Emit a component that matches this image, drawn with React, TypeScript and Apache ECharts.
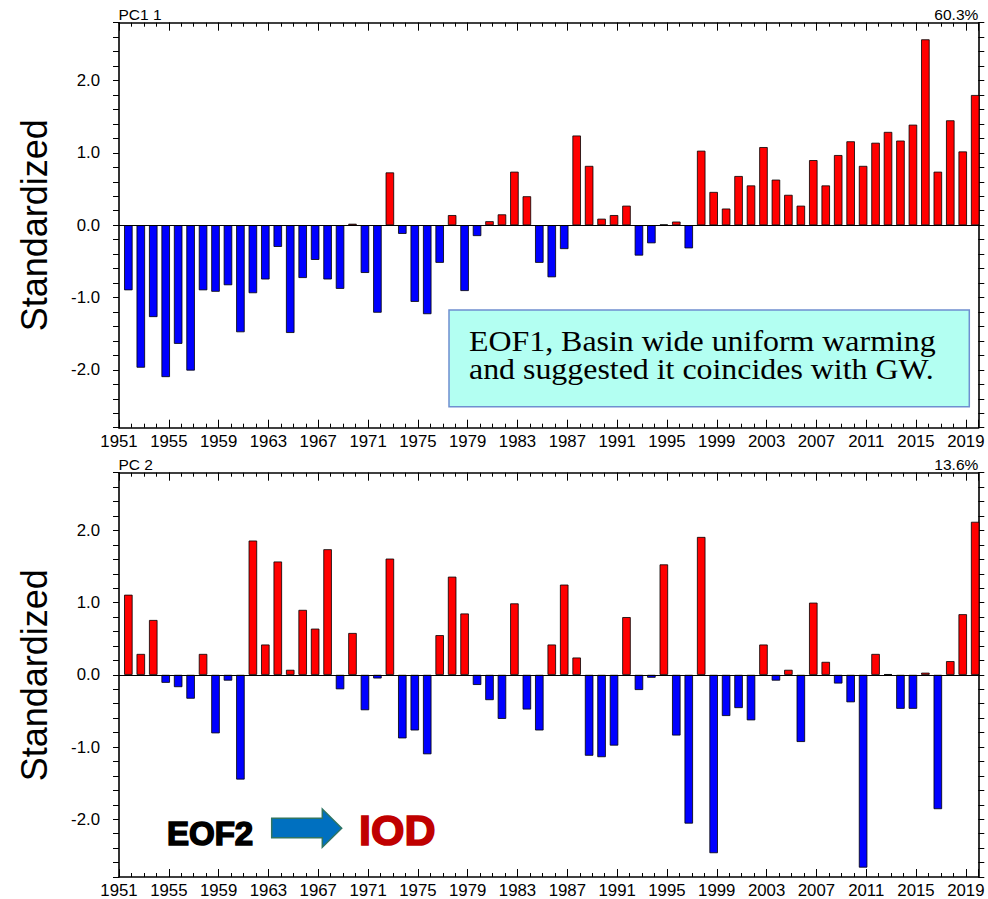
import React, { useEffect, useRef } from 'react';
import * as echarts from 'echarts';

const YEARS = [
  1951, 1952, 1953, 1954, 1955, 1956, 1957, 1958, 1959, 1960,
  1961, 1962, 1963, 1964, 1965, 1966, 1967, 1968, 1969, 1970,
  1971, 1972, 1973, 1974, 1975, 1976, 1977, 1978, 1979, 1980,
  1981, 1982, 1983, 1984, 1985, 1986, 1987, 1988, 1989, 1990,
  1991, 1992, 1993, 1994, 1995, 1996, 1997, 1998, 1999, 2000,
  2001, 2002, 2003, 2004, 2005, 2006, 2007, 2008, 2009, 2010,
  2011, 2012, 2013, 2014, 2015, 2016, 2017, 2018, 2019,
];

const PC1 = [
  -0.9, -1.97, -1.27, -2.1, -1.64, -2.01, -0.9, -0.92, -0.83, -1.48,
  -0.94, -0.75, -0.3, -1.49, -0.73, -0.48, -0.75, -0.88, 0.02, -0.66,
  -1.21, 0.73, -0.12, -1.06, -1.23, -0.52, 0.14, -0.91, -0.15, 0.055,
  0.15, 0.74, 0.4, -0.52, -0.72, -0.33, 1.24, 0.82, 0.09, 0.14,
  0.27, -0.42, -0.25, 0.01, 0.05, -0.32, 1.03, 0.46, 0.23, 0.68,
  0.55, 1.08, 0.63, 0.42, 0.27, 0.9, 0.55, 0.97, 1.16, 0.82,
  1.14, 1.29, 1.17, 1.39, 2.57, 0.74, 1.45, 1.02, 1.8,
];

const PC2 = [
  1.11, 0.29, 0.76, -0.11, -0.17, -0.33, 0.29, -0.81, -0.08, -1.45,
  1.86, 0.42, 1.57, 0.07, 0.9, 0.64, 1.74, -0.2, 0.58, -0.49,
  -0.05, 1.61, -0.88, -0.77, -1.1, 0.55, 1.36, 0.85, -0.14, -0.35,
  -0.61, 0.99, -0.48, -0.77, 0.42, 1.25, 0.24, -1.12, -1.14, -0.98,
  0.8, -0.21, -0.04, 1.53, -0.84, -2.06, 1.91, -2.47, -0.57, -0.46,
  -0.63, 0.42, -0.08, 0.07, -0.93, 1.0, 0.18, -0.12, -0.38, -2.67,
  0.29, 0.01, -0.47, -0.47, 0.03, -1.86, 0.19, 0.84, 2.12,
];

const Y_LABELS = [-2, -1, 0, 1, 2];
const TITLES_LEFT = ['PC1 1', 'PC 2'];
const TITLES_RIGHT = ['60.3%', '13.6%'];
const Y_NAME = 'Standardized';
const BOX_LINES = ['EOF1, Basin wide uniform warming', 'and suggested it coincides with GW.'];
const EOF2_TEXT = 'EOF2';
const IOD_TEXT = 'IOD';

const SANS = "'Liberation Sans', Arial, Helvetica, sans-serif";
const SERIF = "'Liberation Serif', 'Times New Roman', serif";

const FIRST_YEAR = 1951;
const X_MAX = 69;
const BAR_OFFSET = 0.75;
const GRID_LEFT = 119;
const GRID_W = 859.3;
const GRID_H = 405;
const GRID_TOPS = [22.7, 472.7];

function buildOption() {
  const axisLineStyle = { color: '#000', width: 1.6 };
  const tickStyle = { color: '#000', width: 1 };
  const xAxes: any[] = [];
  const yAxes: any[] = [];
  const series: any[] = [];
  const graphic: any[] = [];
  const datasets = [PC1, PC2];

  GRID_TOPS.forEach((top, g) => {
    const base = { type: 'value', gridIndex: g, min: 0, max: X_MAX, splitLine: { show: false } };
    ['bottom', 'top'].forEach((pos) => {
      xAxes.push({
        ...base,
        position: pos,
        interval: 1,
        axisLine: { show: true, onZero: false, lineStyle: axisLineStyle },
        axisTick: { show: true, inside: true, length: 4, lineStyle: tickStyle },
        axisLabel: { show: false },
      });
      xAxes.push({
        ...base,
        position: pos,
        interval: 4,
        axisLine: { show: false, onZero: false },
        axisTick: { show: true, inside: true, length: 8, lineStyle: tickStyle },
        axisLabel: {
          show: pos === 'bottom',
          fontSize: 16.8,
          fontFamily: SANS,
          color: '#000',
          margin: 5,
          formatter: (v: number) => {
            const r = Math.round(v);
            return Math.abs(v - r) < 1e-6 && r % 4 === 0 && r < X_MAX ? String(FIRST_YEAR + r) : '';
          },
        },
      });
    });
    ['left', 'right'].forEach((pos) => {
      yAxes.push({
        type: 'value',
        gridIndex: g,
        position: pos,
        min: -2.8,
        max: 2.8,
        interval: 0.2,
        splitLine: { show: false },
        axisLine: { show: true, onZero: false, lineStyle: axisLineStyle },
        axisTick: { show: true, inside: false, length: 6, lineStyle: tickStyle },
        axisLabel: {
          show: pos === 'left',
          fontSize: 16.8,
          fontFamily: SANS,
          color: '#000',
          margin: 19,
          formatter: (v: number) => {
            const r = Math.round(v);
            return Math.abs(v - r) < 1e-6 && Y_LABELS.indexOf(r) >= 0 ? r.toFixed(1) : '';
          },
        },
      });
    });

    const vals = datasets[g];
    series.push({
      type: 'bar',
      xAxisIndex: g * 4,
      yAxisIndex: g * 2,
      barWidth: 8.5,
      clip: true,
      data: vals.map((v, i) => [YEARS[i] - FIRST_YEAR + BAR_OFFSET, v]),
      itemStyle: {
        color: (p: any) => (p.value[1] >= 0 ? '#ff0000' : '#0000ff'),
        borderColor: '#000',
        borderWidth: 0.8,
      },
      markLine: {
        silent: true,
        symbol: 'none',
        label: { show: false },
        lineStyle: { color: '#000', width: 1, type: 'solid' },
        data: [{ yAxis: 0 }],
      },
    });

    graphic.push({
      type: 'text',
      x: GRID_LEFT - 0.5,
      y: top - 8,
      style: { text: TITLES_LEFT[g], font: `15.5px ${SANS}`, fill: '#000', textAlign: 'left', textVerticalAlign: 'middle' },
    });
    graphic.push({
      type: 'text',
      x: GRID_LEFT + GRID_W,
      y: top - 8,
      style: { text: TITLES_RIGHT[g], font: `15.5px ${SANS}`, fill: '#000', textAlign: 'right', textVerticalAlign: 'middle' },
    });
    graphic.push({
      type: 'text',
      x: 34,
      y: top + GRID_H / 2,
      rotation: Math.PI / 2,
      style: { text: Y_NAME, font: `36px ${SANS}`, fill: '#000', textAlign: 'center', textVerticalAlign: 'middle' },
    });
  });

  // EOF1 annotation box
  graphic.push({
    type: 'rect',
    z: 100,
    shape: { x: 449, y: 310, width: 520.3, height: 96.7 },
    style: { fill: '#b3fff2', stroke: '#6f8fd0', lineWidth: 1.5 },
  });
  graphic.push({
    type: 'text',
    z: 101,
    x: 469,
    y: 341,
    scaleX: 1.1,
    style: { text: BOX_LINES[0], font: `29px ${SERIF}`, fill: '#000', textAlign: 'left', textVerticalAlign: 'middle' },
  });
  graphic.push({
    type: 'text',
    z: 101,
    x: 469,
    y: 369.5,
    scaleX: 1.1,
    style: { text: BOX_LINES[1], font: `29px ${SERIF}`, fill: '#000', textAlign: 'left', textVerticalAlign: 'middle' },
  });

  // EOF2 -> IOD annotation
  graphic.push({
    type: 'text',
    z: 101,
    x: 167,
    y: 833.5,
    style: {
      text: EOF2_TEXT,
      font: `bold 33px ${SANS}`,
      fill: '#000',
      stroke: '#000',
      lineWidth: 1.6,
      textAlign: 'left',
      textVerticalAlign: 'middle',
    },
  });
  graphic.push({
    type: 'polygon',
    z: 101,
    shape: {
      points: [
        [271.7, 818.3],
        [322.3, 818.3],
        [322.3, 809],
        [341.7, 828.3],
        [322.3, 847.3],
        [322.3, 837.7],
        [271.7, 837.7],
      ],
    },
    style: { fill: '#0070c0', stroke: '#2f7563', lineWidth: 1.5 },
  });
  graphic.push({
    type: 'text',
    z: 101,
    x: 359,
    y: 830,
    style: {
      text: IOD_TEXT,
      font: `bold 43px ${SANS}`,
      fill: '#c00000',
      stroke: '#c00000',
      lineWidth: 1.6,
      textAlign: 'left',
      textVerticalAlign: 'middle',
    },
  });

  return {
    animation: false,
    backgroundColor: '#ffffff',
    grid: GRID_TOPS.map((t) => ({ left: GRID_LEFT, top: t, width: GRID_W, height: GRID_H })),
    xAxis: xAxes,
    yAxis: yAxes,
    series,
    graphic,
  };
}

export default function App() {
  const ref = useRef<HTMLDivElement>(null);
  useEffect(() => {
    if (!ref.current) return;
    const chart = echarts.init(ref.current, undefined, { renderer: 'svg' });
    chart.setOption(buildOption() as any);
    return () => chart.dispose();
  }, []);
  return <div ref={ref} style={{ position: 'absolute', left: 0, top: 0, width: 988, height: 899, background: '#fff' }} />;
}
